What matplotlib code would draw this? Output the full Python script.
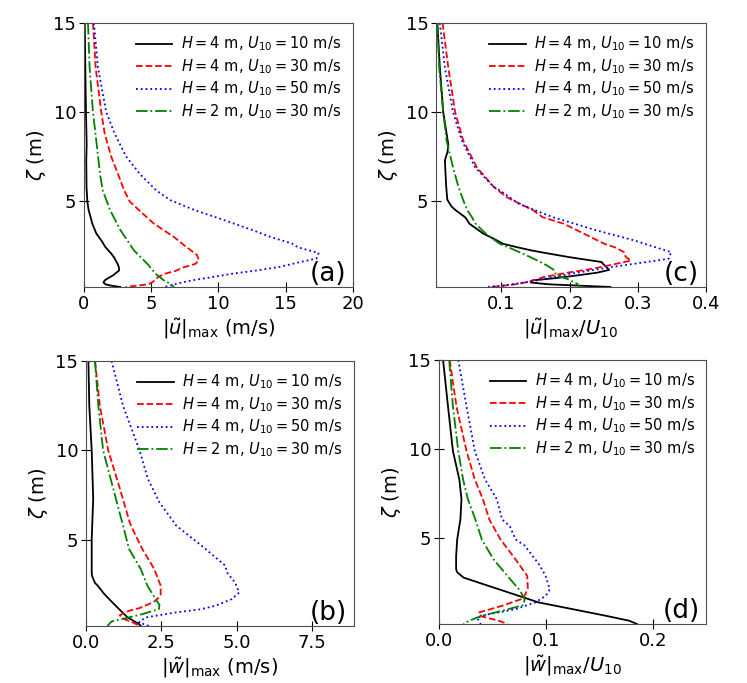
import matplotlib
matplotlib.use("Agg")
import matplotlib.pyplot as plt

# -------------------------------------------------------
# Data (zeta in m)
# -------------------------------------------------------

labels = [r"$H = 4$ m, $U_{10} = 10$ m/s",
          r"$H = 4$ m, $U_{10} = 30$ m/s",
          r"$H = 4$ m, $U_{10} = 50$ m/s",
          r"$H = 2$ m, $U_{10} = 30$ m/s"]

# (a) |u|max (m/s)
z_a_k = [15, 12.5, 10, 8.2, 7.3, 5.8, 5.0, 4.5, 4.1, 3.75, 3.2, 2.8, 2.43, 2.07, 1.87, 1.5, 1.3, 1.13, 0.85, 0.7, 0.57, 0.45, 0.35, 0.28, 0.2]
u_a_k = [0.06, 0.1, 0.15, 0.2, 0.17, 0.19, 0.25, 0.35, 0.5, 0.62, 0.92, 1.3, 1.6, 2.03, 2.23, 2.5, 2.6, 2.62, 2.16, 1.8, 1.54, 1.45, 1.6, 2.0, 2.7]
z_a_r = [15, 12.5, 10, 8.8, 7.5, 6.4, 5.6, 5.0, 4.5, 3.75, 3.0, 2.45, 2.0, 1.7, 1.5, 1.3, 1.1, 0.94, 0.75, 0.6, 0.45, 0.35, 0.28, 0.2]
u_a_r = [0.67, 0.87, 1.29, 1.54, 2.03, 2.6, 3.0, 3.4, 4.1, 5.2, 6.7, 7.6, 8.4, 8.55, 8.3, 7.4, 6.8, 6.0, 5.5, 5.3, 5.05, 4.8, 4.0, 3.1]
z_a_b = [15, 12.5, 10, 8.8, 7.5, 6.55, 5.6, 5.06, 4.49, 3.93, 3.4, 3.0, 2.63, 2.43, 2.1, 1.8, 1.6, 1.32, 1.1, 0.94, 0.75, 0.57, 0.4, 0.28, 0.2]
u_a_b = [0.74, 1.04, 1.66, 2.28, 3.15, 4.14, 5.4, 6.44, 8.3, 10.5, 12.5, 13.9, 15.5, 15.9, 17.45, 17.3, 16.1, 14.5, 12.6, 11.0, 9.5, 8.0, 7.0, 6.44, 6.0]
z_a_g = [15, 12.5, 10, 7.86, 6.5, 5.6, 4.5, 3.4, 2.25, 1.5, 0.94, 0.57, 0.34, 0.2]
u_a_g = [0.3, 0.42, 0.67, 1.0, 1.2, 1.4, 1.95, 2.7, 3.72, 4.71, 5.33, 5.95, 6.5, 6.7]

# (c) |u|max / U10
z_c_k = [15, 12.5, 10, 8.2, 7.8, 7.3, 6.5, 5.8, 5.1, 4.7, 4.5, 4.1, 3.75, 3.2, 2.9, 2.62, 2.43, 2.25, 2.15, 1.87, 1.6, 1.5, 1.16, 1.0, 0.85, 0.7, 0.57, 0.45, 0.35, 0.28, 0.2]
u_c_k = [0.006, 0.0096, 0.0146, 0.022, 0.021, 0.017, 0.018, 0.019, 0.0205, 0.027, 0.033, 0.047, 0.053, 0.073, 0.089, 0.1025, 0.123, 0.144, 0.158, 0.2, 0.247, 0.249, 0.258, 0.24, 0.211, 0.18, 0.145, 0.143, 0.17, 0.211, 0.26]
z_c_r = [15, 12.5, 10, 8.4, 6.9, 5.8, 5.25, 4.49, 4.12, 3.75, 3.19, 2.62, 2.43, 2.15, 1.9, 1.68, 1.4, 1.2, 1.03, 0.76, 0.6, 0.47, 0.35, 0.23, 0.2]
u_c_r = [0.0136, 0.022, 0.032, 0.044, 0.064, 0.089, 0.107, 0.147, 0.16, 0.191, 0.221, 0.251, 0.266, 0.28, 0.282, 0.29, 0.256, 0.23, 0.201, 0.162, 0.15, 0.137, 0.12, 0.093, 0.085]
z_c_b = [15, 12.5, 10, 8.4, 6.9, 5.8, 5.62, 4.87, 4.12, 3.37, 2.81, 2.5, 2.15, 1.78, 1.53, 1.31, 0.94, 0.75, 0.57, 0.4, 0.28, 0.2]
u_c_b = [0.0096, 0.017, 0.029, 0.042, 0.0615, 0.089, 0.0975, 0.125, 0.175, 0.24, 0.295, 0.32, 0.349, 0.345, 0.3, 0.26, 0.201, 0.175, 0.152, 0.125, 0.1025, 0.078]
z_c_g = [15, 12.5, 10, 8.4, 6.9, 5.8, 5.06, 4.49, 4.12, 3.75, 3.19, 2.62, 2.43, 1.97, 1.7, 1.4, 1.13, 0.85, 0.66, 0.38, 0.2]
u_c_g = [0.006, 0.0086, 0.0146, 0.0195, 0.029, 0.037, 0.044, 0.05, 0.0566, 0.062, 0.077, 0.0975, 0.11, 0.137, 0.152, 0.167, 0.178, 0.18, 0.196, 0.211, 0.215]

# (b) |w|max (m/s)
z_b_k = [15, 12.5, 10, 7.3, 5.06, 3.2, 3.0, 2.6, 2.45, 2.0, 1.7, 1.14, 0.68, 0.31, 0.2]
w_b_k = [0.08, 0.11, 0.19, 0.24, 0.19, 0.19, 0.2, 0.3, 0.39, 0.6, 0.77, 1.1, 1.38, 1.76, 1.82]
z_b_r = [15, 12.5, 10, 7.9, 6.0, 5.6, 4.5, 3.4, 2.45, 1.9, 1.6, 1.42, 1.2, 1.05, 0.8, 0.6, 0.4, 0.2]
w_b_r = [0.3, 0.46, 0.74, 1.12, 1.45, 1.55, 1.87, 2.26, 2.48, 2.48, 2.3, 2.09, 1.78, 1.43, 1.12, 1.25, 1.55, 1.78]
z_b_b = [15, 12.5, 10, 8.4, 7.1, 5.8, 4.6, 3.56, 3.19, 2.63, 2.07, 1.7, 1.33, 1.13, 0.96, 0.85, 0.68, 0.57, 0.4, 0.2]
w_b_b = [0.85, 1.23, 1.78, 2.06, 2.44, 3.0, 3.9, 4.63, 4.68, 4.95, 5.09, 4.84, 4.3, 3.8, 3.0, 2.6, 2.0, 1.89, 1.76, 2.09]
z_b_g = [15, 12.5, 10, 7.9, 6.0, 4.5, 3.37, 2.45, 1.7, 1.38, 1.14, 0.86, 0.68, 0.45, 0.2]
w_b_g = [0.3, 0.41, 0.57, 0.9, 1.2, 1.43, 1.82, 2.04, 2.31, 2.44, 2.42, 1.87, 1.43, 0.85, 0.71]

# (d) |w|max / U10
z_d_k = [15, 12.4, 9.9, 8.3, 7.2, 6.06, 5.7, 4.94, 4.0, 3.26, 3.1, 2.8, 2.33, 1.77, 1.41, 1.03, 0.66, 0.38, 0.2]
w_d_k = [0.0038, 0.0084, 0.013, 0.019, 0.021, 0.02, 0.019, 0.017, 0.016, 0.016, 0.017, 0.023, 0.0466, 0.075, 0.093, 0.125, 0.156, 0.178, 0.185]
z_d_r = [15, 12.4, 9.9, 8.3, 7.2, 6.06, 4.94, 3.82, 2.89, 2.2, 1.64, 1.22, 0.84, 0.62, 0.38, 0.2]
w_d_r = [0.01, 0.0163, 0.0257, 0.0335, 0.041, 0.047, 0.0575, 0.0716, 0.0825, 0.083, 0.079, 0.059, 0.037, 0.04, 0.056, 0.064]
z_d_b = [15, 12.4, 9.9, 8.3, 7.2, 6.06, 5.7, 4.94, 4.6, 3.82, 3.5, 2.89, 2.14, 1.77, 1.41, 1.03, 0.75, 0.56, 0.2]
w_d_b = [0.018, 0.0257, 0.0335, 0.043, 0.054, 0.059, 0.066, 0.0716, 0.08, 0.09, 0.094, 0.0997, 0.1035, 0.0997, 0.09, 0.0716, 0.0466, 0.0356, 0.039]
z_d_g = [15, 12.4, 9.9, 8.3, 7.2, 6.06, 4.94, 3.82, 2.89, 2.05, 1.59, 1.26, 0.94, 0.66, 0.38, 0.2]
w_d_g = [0.0095, 0.013, 0.018, 0.0225, 0.027, 0.034, 0.04, 0.051, 0.064, 0.076, 0.08, 0.079, 0.059, 0.04, 0.028, 0.023]

# -------------------------------------------------------
# Figure
# -------------------------------------------------------

styles = [("k", "-"), ("r", "--"), ("b", ":"), ("g", "-.")]

fig = plt.figure(figsize=(7.47, 6.83), dpi=100)

panels = [
    ([0.1124, 0.5798, 0.360, 0.3865],
     [(u_a_k, z_a_k), (u_a_r, z_a_r), (u_a_b, z_a_b), (u_a_g, z_a_g)],
     (0, 20), [0, 5, 10, 15, 20], r"$|\tilde{u}|_{\rm max}$ (m/s)", "(a)"),
    ([0.5837, 0.5798, 0.3614, 0.3865],
     [(u_c_k, z_c_k), (u_c_r, z_c_r), (u_c_b, z_c_b), (u_c_g, z_c_g)],
     (0.004, 0.4), [0.1, 0.2, 0.3, 0.4], r"$|\tilde{u}|_{\rm max}/U_{10}$", "(c)"),
    ([0.1151, 0.0835, 0.3588, 0.388],
     [(w_b_k, z_b_k), (w_b_r, z_b_r), (w_b_b, z_b_b), (w_b_g, z_b_g)],
     (0, 8.9), [0.0, 2.5, 5.0, 7.5], r"$|\tilde{w}|_{\rm max}$ (m/s)", "(b)"),
    ([0.5877, 0.0864, 0.358, 0.3865],
     [(w_d_k, z_d_k), (w_d_r, z_d_r), (w_d_b, z_d_b), (w_d_g, z_d_g)],
     (0, 0.25), [0.0, 0.1, 0.2], r"$|\tilde{w}|_{\rm max}/U_{10}$", "(d)"),
]

for rect, curves, xlim, xticks, xlabel, tag in panels:
    ax = fig.add_axes(rect)
    for (x, z), (c, ls), lab in zip(curves, styles, labels):
        ax.plot(x, z, color=c, linestyle=ls, linewidth=1.3, label=lab)
    ax.set_xlim(*xlim)
    ax.set_ylim(0.2, 15)
    ax.set_xticks(xticks)
    ax.set_yticks([5, 10, 15])
    ax.tick_params(direction="inout", length=7, pad=2, labelsize=13)
    for sp in ax.spines.values():
        sp.set_color("0.3")
    ax.set_xlabel(xlabel, fontsize=14, labelpad=3)
    ax.set_ylabel(r"$\zeta$ (m)", fontsize=14)
    ax.legend(loc="upper right", frameon=False, fontsize=10.5,
              handlelength=2.5, handletextpad=0.6, labelspacing=0.26,
              borderaxespad=0.4)
    ax.text(0.975, 0.0, tag, transform=ax.transAxes, ha="right", va="bottom",
            fontsize=19)

fig.savefig("out.png", dpi=100)
